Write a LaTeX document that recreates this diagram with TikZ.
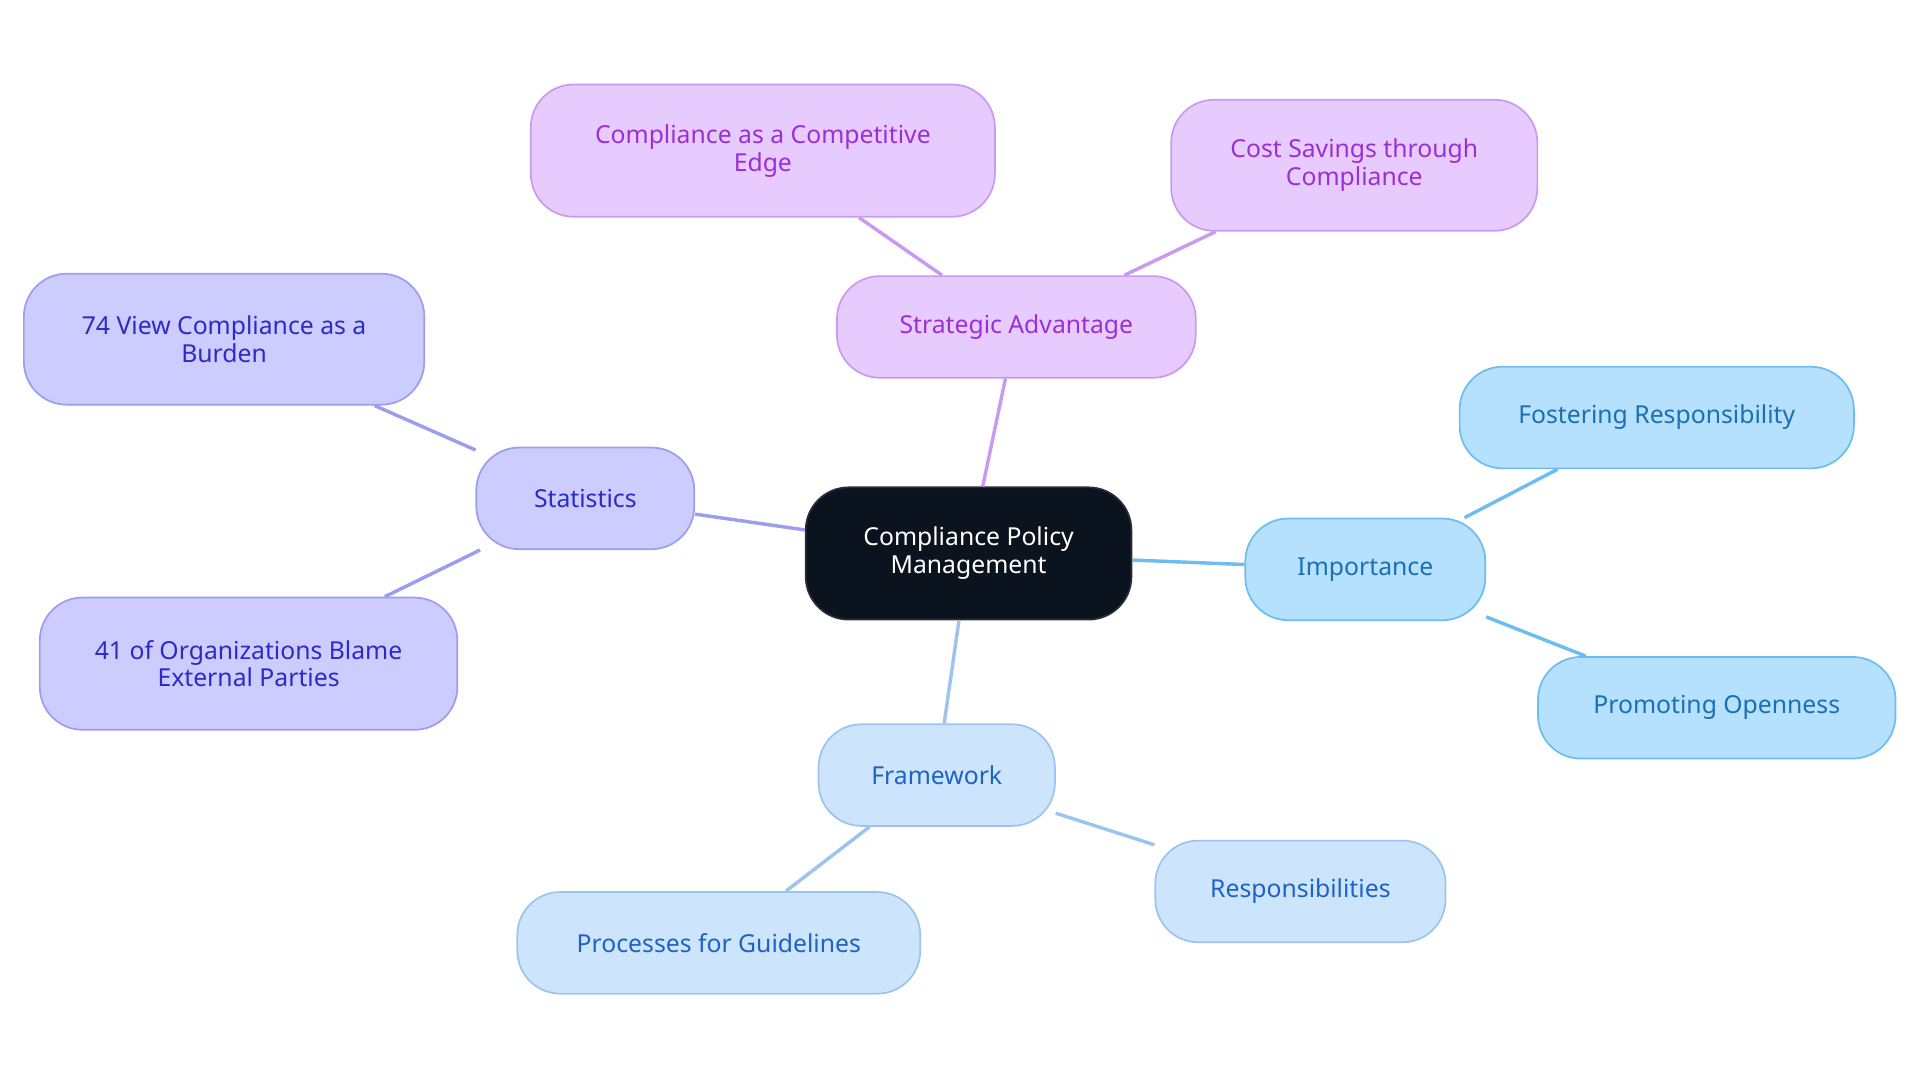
\documentclass[tikz,border=0pt]{standalone}
\usepackage{fontspec}
\setmainfont{Noto Sans}
\begin{document}
\begin{tikzpicture}[x=0.02cm,y=-0.02cm,
 base/.style={draw,line width=0.8pt,rounded corners=0.7cm,align=center,inner sep=0pt,font=\fontsize{11.5}{13}\selectfont},
 pur/.style={base,fill=purpfill,draw=purpdraw,text=purptext},
 vio/.style={base,fill=viofill,draw=viodraw,text=viotext},
 blu/.style={base,fill=blufill,draw=bludraw,text=blutext},
 lbl/.style={base,fill=lblfill,draw=lbldraw,text=lbltext},
 e/.style={line width=1.6pt}]
\definecolor{purpfill}{HTML}{E8CBFE}\definecolor{purpdraw}{HTML}{C99BF0}\definecolor{purptext}{HTML}{9A2FD4}
\definecolor{viofill}{HTML}{CCCCFE}\definecolor{viodraw}{HTML}{9D9DF0}\definecolor{viotext}{HTML}{2E2AC8}
\definecolor{blufill}{HTML}{B5E0FE}\definecolor{bludraw}{HTML}{6DBDEE}\definecolor{blutext}{HTML}{1A70B2}
\definecolor{lblfill}{HTML}{CDE4FD}\definecolor{lbldraw}{HTML}{9CC4EE}\definecolor{lbltext}{HTML}{1E63C4}
\useasboundingbox (0,0) rectangle (1568,884);
\node[base,fill=black!80!blue!20!black,fill=black!85!blue,fill={rgb,255:red,11;green,19;blue,30},draw={rgb,255:red,40;green,45;blue,55},text=white,minimum width=266*0.02cm,minimum height=108*0.02cm] (c) at (791,452) {Compliance Policy\\Management};
\node[pur,minimum width=293*0.02cm,minimum height=83*0.02cm] (sa) at (830,267) {Strategic Advantage};
\node[pur,minimum width=379*0.02cm,minimum height=108*0.02cm] (ce) at (623,123) {Compliance as a Competitive\\Edge};
\node[pur,minimum width=299*0.02cm,minimum height=107*0.02cm] (cs) at (1106,135) {Cost Savings through\\Compliance};
\node[vio,minimum width=178*0.02cm,minimum height=83*0.02cm] (st) at (478,407) {Statistics};
\node[vio,minimum width=327*0.02cm,minimum height=107*0.02cm] (s1) at (183,277) {74 View Compliance as a\\Burden};
\node[vio,minimum width=341*0.02cm,minimum height=108*0.02cm] (s2) at (203,542) {41 of Organizations Blame\\External Parties};
\node[blu,minimum width=196*0.02cm,minimum height=83*0.02cm] (im) at (1115,465) {Importance};
\node[blu,minimum width=322*0.02cm,minimum height=83*0.02cm] (i1) at (1353,341) {Fostering Responsibility};
\node[blu,minimum width=292*0.02cm,minimum height=83*0.02cm] (i2) at (1402,578) {Promoting Openness};
\node[lbl,minimum width=193*0.02cm,minimum height=83*0.02cm] (fw) at (765,633) {Framework};
\node[lbl,minimum width=329*0.02cm,minimum height=83*0.02cm] (f1) at (587,770) {Processes for Guidelines};
\node[lbl,minimum width=237*0.02cm,minimum height=83*0.02cm] (f2) at (1062,728) {Responsibilities};
\begin{scope}[on background layer/.style={}]
\end{scope}
\draw[e,purpdraw] (c) -- (sa); \draw[e,purpdraw] (sa) -- (ce); \draw[e,purpdraw] (sa) -- (cs);
\draw[e,viodraw] (c) -- (st); \draw[e,viodraw] (st) -- (s1); \draw[e,viodraw] (st) -- (s2);
\draw[e,bludraw] (c) -- (im); \draw[e,bludraw] (im) -- (i1); \draw[e,bludraw] (im) -- (i2);
\draw[e,lbldraw] (c) -- (fw); \draw[e,lbldraw] (fw) -- (f1); \draw[e,lbldraw] (fw) -- (f2);
\end{tikzpicture}
\end{document}
